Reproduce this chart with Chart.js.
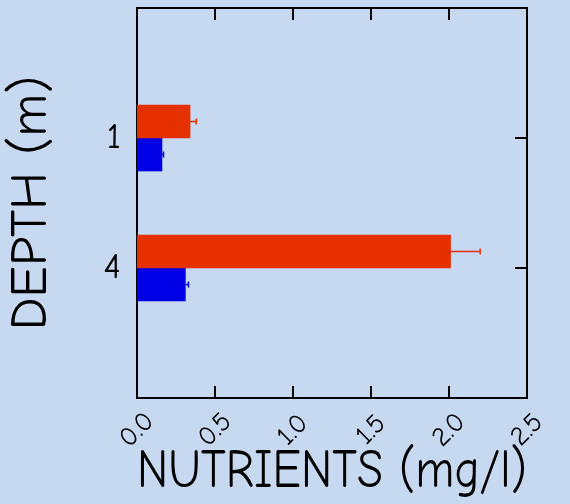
<!DOCTYPE html>
<html>
<head>
<meta charset="utf-8">
<script src="https://cdn.jsdelivr.net/npm/chart.js@4.4.0/dist/chart.umd.min.js"></script>
<style>
  html, body { margin: 0; padding: 0; background: #c6d9f1; }
  #wrap { width: 570px; height: 504px; }
</style>
</head>
<body>
<div id="wrap"><canvas id="myChart" width="570" height="504"></canvas></div>
<script>
// depth categories (m) and nutrient values (mg/l)
const depths = [1, 4];
const redValues = [0.34, 2.01];
const redErrors = [0.04, 0.19];
const blueValues = [0.16, 0.31];
const blueErrors = [0.01, 0.02];
const xTicks = [0.0, 0.5, 1.0, 1.5, 2.0, 2.5];

const FONT = '"Comic Sans MS", "Comic Neue", "DejaVu Sans", sans-serif';
const RED = "#e53000";
const BLUE = "#0000e6";

const errors = [redErrors, blueErrors];

// error bars + inward ticks + rotated x labels
const extras = {
  id: "extras",
  afterDatasetsDraw(chart) {
    const ctx = chart.ctx;
    const xs = chart.scales.x;
    chart.data.datasets.forEach((ds, i) => {
      const meta = chart.getDatasetMeta(i);
      ctx.save();
      ctx.strokeStyle = ds.backgroundColor;
      ctx.lineWidth = 1.5;
      meta.data.forEach((bar, j) => {
        const end = xs.getPixelForValue(ds.data[j].x + errors[i][j]);
        ctx.beginPath();
        ctx.moveTo(bar.x, bar.y);
        ctx.lineTo(end, bar.y);
        ctx.moveTo(end, bar.y - 3);
        ctx.lineTo(end, bar.y + 3);
        ctx.stroke();
      });
      ctx.restore();
    });
  },
  afterDraw(chart) {
    const ctx = chart.ctx;
    const area = chart.chartArea;
    const xs = chart.scales.x;
    const ys = chart.scales.y;
    ctx.save();
    ctx.strokeStyle = "#000";
    ctx.lineWidth = 2;
    ctx.beginPath();
    xTicks.slice(1, -1).forEach(v => {
      const px = Math.round(xs.getPixelForValue(v));
      ctx.moveTo(px, area.bottom);
      ctx.lineTo(px, area.bottom - 12);
      ctx.moveTo(px, area.top);
      ctx.lineTo(px, area.top + 12);
    });
    depths.forEach(d => {
      const py = Math.round(ys.getPixelForValue(d));
      ctx.moveTo(area.right, py);
      ctx.lineTo(area.right - 12, py);
    });
    ctx.stroke();

    ctx.fillStyle = "#000";
    ctx.font = "27px " + FONT;
    ctx.textAlign = "center";
    ctx.textBaseline = "middle";
    xTicks.forEach(v => {
      ctx.save();
      ctx.translate(xs.getPixelForValue(v), area.bottom + 32);
      ctx.rotate(-Math.PI / 4);
      ctx.fillText(v.toFixed(1), 0, 0);
      ctx.restore();
    });
    ctx.restore();
  }
};

new Chart(document.getElementById("myChart"), {
  type: "bar",
  data: {
    datasets: [
      {
        label: "Nutrient A",
        backgroundColor: RED,
        data: depths.map((d, i) => ({ x: redValues[i], y: d }))
      },
      {
        label: "Nutrient B",
        backgroundColor: BLUE,
        data: depths.map((d, i) => ({ x: blueValues[i], y: d }))
      }
    ]
  },
  options: {
    indexAxis: "y",
    responsive: false,
    animation: false,
    devicePixelRatio: 1,
    barThickness: 33,
    layout: { padding: 0 },
    plugins: { legend: { display: false }, tooltip: { enabled: false } },
    scales: {
      x: {
        type: "linear",
        position: "bottom",
        min: 0,
        max: 2.5,
        ticks: { display: false, stepSize: 0.5 },
        grid: { display: false },
        border: { display: true, color: "#000", width: 2 },
        title: {
          display: true,
          text: "NUTRIENTS (mg/l)",
          color: "#000",
          font: { family: FONT, size: 54 },
          padding: { top: 0, bottom: 0 }
        },
        afterFit(scale) { scale.height = 106; }
      },
      x2: {
        type: "linear",
        position: "top",
        min: 0,
        max: 2.5,
        ticks: { display: false },
        grid: { display: false },
        border: { display: true, color: "#000", width: 2 },
        afterFit(scale) { scale.height = 8; }
      },
      y: {
        type: "linear",
        position: "left",
        offset: false,
        min: -2,
        max: 7,
        reverse: true,
        afterBuildTicks(scale) { scale.ticks = depths.map(v => ({ value: v })); },
        ticks: {
          color: "#000",
          padding: 8,
          font: { family: FONT, size: 36 },
          callback: v => String(v)
        },
        grid: { display: false },
        border: { display: true, color: "#000", width: 2 },
        title: {
          display: true,
          text: "DEPTH (m)",
          color: "#000",
          font: { family: FONT, size: 52 },
          padding: { top: 0, bottom: 0 }
        },
        afterFit(scale) {
          scale.width = 137;
          scale.paddingTop = 0;
          scale.paddingBottom = 0;
        }
      },
      y2: {
        type: "linear",
        position: "right",
        offset: false,
        min: -2,
        max: 7,
        reverse: true,
        ticks: { display: false },
        grid: { display: false },
        border: { display: true, color: "#000", width: 2 },
        afterFit(scale) {
          scale.width = 43;
          scale.paddingTop = 0;
          scale.paddingBottom = 0;
        }
      }
    }
  },
  plugins: [extras]
});
</script>
</body>
</html>
